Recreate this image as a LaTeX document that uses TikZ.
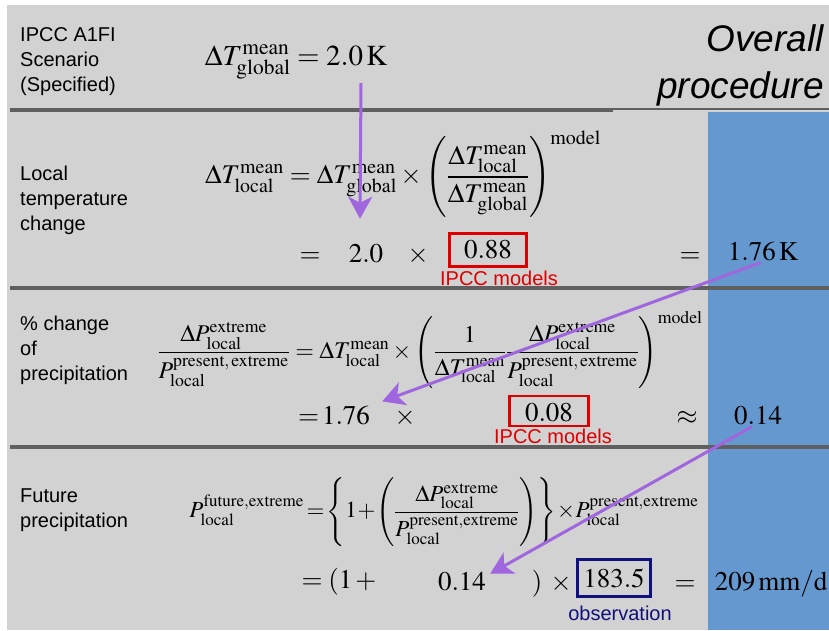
\documentclass[tikz,border=0pt]{standalone}
\usepackage{amsmath}
\usepackage{mathptmx}
\usepackage[no-math]{fontspec}
\setmainfont{Liberation Serif}
\setsansfont{Liberation Sans}
\usetikzlibrary{arrows.meta}
\definecolor{bggray}{RGB}{210, 210, 210}
\definecolor{colblue}{RGB}{101, 152, 206}
\definecolor{rulegray}{RGB}{95, 95, 95}
\definecolor{flowpurple}{RGB}{160, 102, 222}
\definecolor{boxred}{RGB}{222, 0, 0}
\definecolor{obsnavy}{RGB}{16, 16, 122}
\newcommand{\tx}[1]{\mathrm{#1}}

\begin{document}
\begin{tikzpicture}[x=1pt, y=-1pt,
    lbl/.style={font=\sffamily\fontsize{20}{25}\selectfont, align=left,
                anchor=west, inner sep=0pt},
    eqn/.style={font=\fontsize{25}{30}\selectfont, inner sep=0pt},
    num/.style={font=\fontsize{27}{30}\selectfont, anchor=base, inner sep=0pt},
    note/.style={font=\sffamily\fontsize{20}{22}\selectfont, anchor=base,
                 inner sep=0pt},
    valbox/.style={draw=boxred, line width=2.4pt, inner sep=0pt,
                   font=\fontsize{27}{30}\selectfont},
    rule/.style={draw=rulegray, line width=3.5pt},
    flow/.style={-{Stealth[length=22pt, width=24pt, inset=6pt]},
                 line width=3pt, draw=flowpurple}]
  \useasboundingbox (0,0) rectangle (829,630);
  \fill[bggray] (7,5) rectangle (829,630);
  \fill[colblue] (708,112) rectangle (829,630);

  % Headings
  \node[font=\sffamily\itshape\fontsize{37}{47}\selectfont, align=right,
        anchor=north east, inner sep=0pt] (title) at (824,24) {Overall\\procedure};
  \node[lbl] (scen) at (20,62) {IPCC A1FI\\Scenario\\(Specified)};
  \node[lbl] (loc)  at (20,200) {Local\\temperature\\change};
  \node[lbl] (pct)  at (20,350) {\% change\\of\\precipitation};
  \node[lbl] (fut)  at (20,510) {Future\\precipitation};

  % Scenario
  \node[eqn, font=\fontsize{29}{32}\selectfont] (tglob) at (296,62)
    {$\Delta T^{\tx{mean}}_{\tx{global}} = 2.0\,\mathrm{K}$};

  % Local temperature change
  \node[eqn, font=\fontsize{27}{30}\selectfont] (tloc) at (403,174)
    {$\Delta T^{\tx{mean}}_{\tx{local}} = \Delta T^{\tx{mean}}_{\tx{global}}
      \times \left(\dfrac{\Delta T^{\tx{mean}}_{\tx{local}}}
      {\Delta T^{\tx{mean}}_{\tx{global}}}\right)^{\tx{model}}$};
  \node[num] (eq2a) at (310,262) {$=$};
  \node[num] (v20)  at (366,262) {$2.0$};
  \node[num] (x2)   at (418,262) {$\times$};
  \node[valbox, minimum width=77, minimum height=33] (r088) at (488,250) {$0.88$};
  \node[note, text=boxred] (ipcc1) at (499,285) {IPCC models};
  \node[num] (eq2b) at (690,262) {$=$};
  \node[num] (t176) at (763,260) {$1.76\,\mathrm{K}$};

  % Change of precipitation
  \node[eqn, font=\fontsize{24}{30}\selectfont] (pchg) at (430,350)
    {$\dfrac{\Delta P^{\tx{extreme}}_{\tx{local}}}
      {P^{\tx{present,\,extreme}}_{\tx{local}}}
      = \Delta T^{\tx{mean}}_{\tx{local}} \times
      \left(\dfrac{1}{\Delta T^{\tx{mean}}_{\tx{local}}}
      \dfrac{\Delta P^{\tx{extreme}}_{\tx{local}}}
      {P^{\tx{present,\,extreme}}_{\tx{local}}}\right)^{\tx{model}}$};
  \node[num] (v176) at (334,424) {$=\!1.76$};
  \node[num] (x3)   at (405,424) {$\times$};
  \node[valbox, minimum width=79, minimum height=30] (r008) at (549,411)
    {\smash{\raisebox{-10pt}{$0.08$}}};
  \node[note, text=boxred] (ipcc2) at (553,443) {IPCC models};
  \node[num] (ap3)  at (687,424) {$\approx$};
  \node[num] (p014) at (758,424) {$0.14$};

  % Future precipitation
  \node[eqn, font=\fontsize{23}{30}\selectfont] (pfut) at (444,512)
    {$P^{\tx{future,extreme}}_{\tx{local}} \!=\! \left\{1\!+\!\left(
      \dfrac{\Delta P^{\tx{extreme}}_{\tx{local}}}
      {P^{\tx{present,extreme}}_{\tx{local}}}\right)\right\}
      \!\times\! P^{\tx{present,extreme}}_{\tx{local}}$};
  \node[num] (op4)  at (339,588) {$=(1\,+$};
  \node[num] (v014) at (462,590) {$0.14$};
  \node[num] (cp4)  at (537,590) {$)$};
  \node[num] (x4)   at (561,590) {$\times$};
  \node[valbox, draw=obsnavy, minimum width=73, minimum height=37] (r183)
    at (614,578) {$183.5$};
  \node[note, text=obsnavy] (obs) at (620,620) {observation};
  \node[num] (eq4)  at (685,590) {$=$};
  \node[num] (res)  at (771,590) {$209\,\mathrm{mm/d}$};

  % Rules
  \draw[rule] (10,110) -- (613,110);
  \draw[rulegray, line width=1.5pt] (613,109) -- (829,109);
  \draw[rule] (10,288) -- (829,288);
  \draw[rule] (10,447) -- (829,447);

  % Arrows
  \draw[flow] ([xshift=65pt, yshift=-4pt]tglob.south) -- ([xshift=-6pt, yshift=25pt]v20.north);
  \draw[flow] ([xshift=33pt, yshift=-2pt]t176.south west) -- ([xshift=12pt, yshift=4pt]v176.north east);
  \draw[flow] ([xshift=-6pt, yshift=-2pt]p014.south) -- ([xshift=4pt, yshift=-2pt]v014.north east);
\end{tikzpicture}
\end{document}
